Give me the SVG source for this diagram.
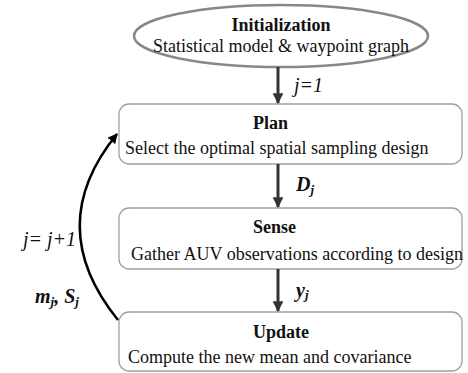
<svg xmlns="http://www.w3.org/2000/svg" width="468" height="373" viewBox="0 0 468 373">
<defs>
<style>
text{font-family:"Liberation Serif","Times New Roman",serif;font-size:18px;fill:#111}
.t{font-weight:bold}
.box{fill:#fff;stroke:#a0a0a0;stroke-width:1.3}
.arr{stroke:#333;stroke-width:3;fill:none}
.lbl{font-style:italic;font-size:20px}
.bi{font-style:italic;font-weight:bold;font-size:20px}
.sub{font-size:13px}
</style>
<marker id="ah" viewBox="0 0 10 10" refX="9" refY="5" markerWidth="3.6" markerHeight="3.6" orient="auto" markerUnits="strokeWidth">
<path d="M0,0 L10,5 L0,10 Z" fill="#333"/>
</marker>
<marker id="ahk" viewBox="0 0 10 10" refX="9" refY="5" markerWidth="4" markerHeight="4" orient="auto" markerUnits="strokeWidth">
<path d="M0,0 L10,5 L0,10 Z" fill="#000"/>
</marker>
</defs>
<rect width="468" height="373" fill="#fff"/>
<g id="init">
<ellipse cx="281" cy="36" rx="147" ry="31" fill="#fff" stroke="#888" stroke-width="2.5"/>
<text class="t" x="281" y="31" text-anchor="middle">Initialization</text>
<text x="281" y="52" text-anchor="middle">Statistical model &amp; waypoint graph</text>
</g>
<g id="plan">
<rect class="box" x="119" y="104" width="343" height="60" rx="10"/>
<text class="t" x="253" y="129">Plan</text>
<text x="125" y="154">Select the optimal spatial sampling design</text>
</g>
<g id="sense">
<rect class="box" x="119" y="208" width="343" height="61" rx="10"/>
<text class="t" x="253" y="233">Sense</text>
<text x="131" y="260">Gather AUV observations according to design</text>
</g>
<g id="update">
<rect class="box" x="119" y="312" width="343" height="59" rx="10"/>
<text class="t" x="253" y="338">Update</text>
<text x="128" y="363">Compute the new mean and covariance</text>
</g>
<g id="connectors">
<line class="arr" x1="278" y1="67" x2="278" y2="103" marker-end="url(#ah)"/>
<line class="arr" x1="278" y1="164" x2="278" y2="207" marker-end="url(#ah)"/>
<line class="arr" x1="278" y1="269" x2="278" y2="311" marker-end="url(#ah)"/>
<path d="M118,320 Q42,226 117,134" fill="none" stroke="#000" stroke-width="2.5" marker-end="url(#ahk)"/>
<text class="lbl" x="294" y="92">j=1</text>
<text class="bi" x="296" y="191">D<tspan class="sub" dy="3">j</tspan></text>
<text class="bi" x="296" y="297">y<tspan class="sub" dy="2">j</tspan></text>
<text class="lbl" x="23" y="246">j= j+1</text>
<text class="bi" x="35" y="303">m<tspan class="sub" dy="3">j</tspan><tspan dy="-3">, S</tspan><tspan class="sub" dy="3">j</tspan></text>
</g>
</svg>
